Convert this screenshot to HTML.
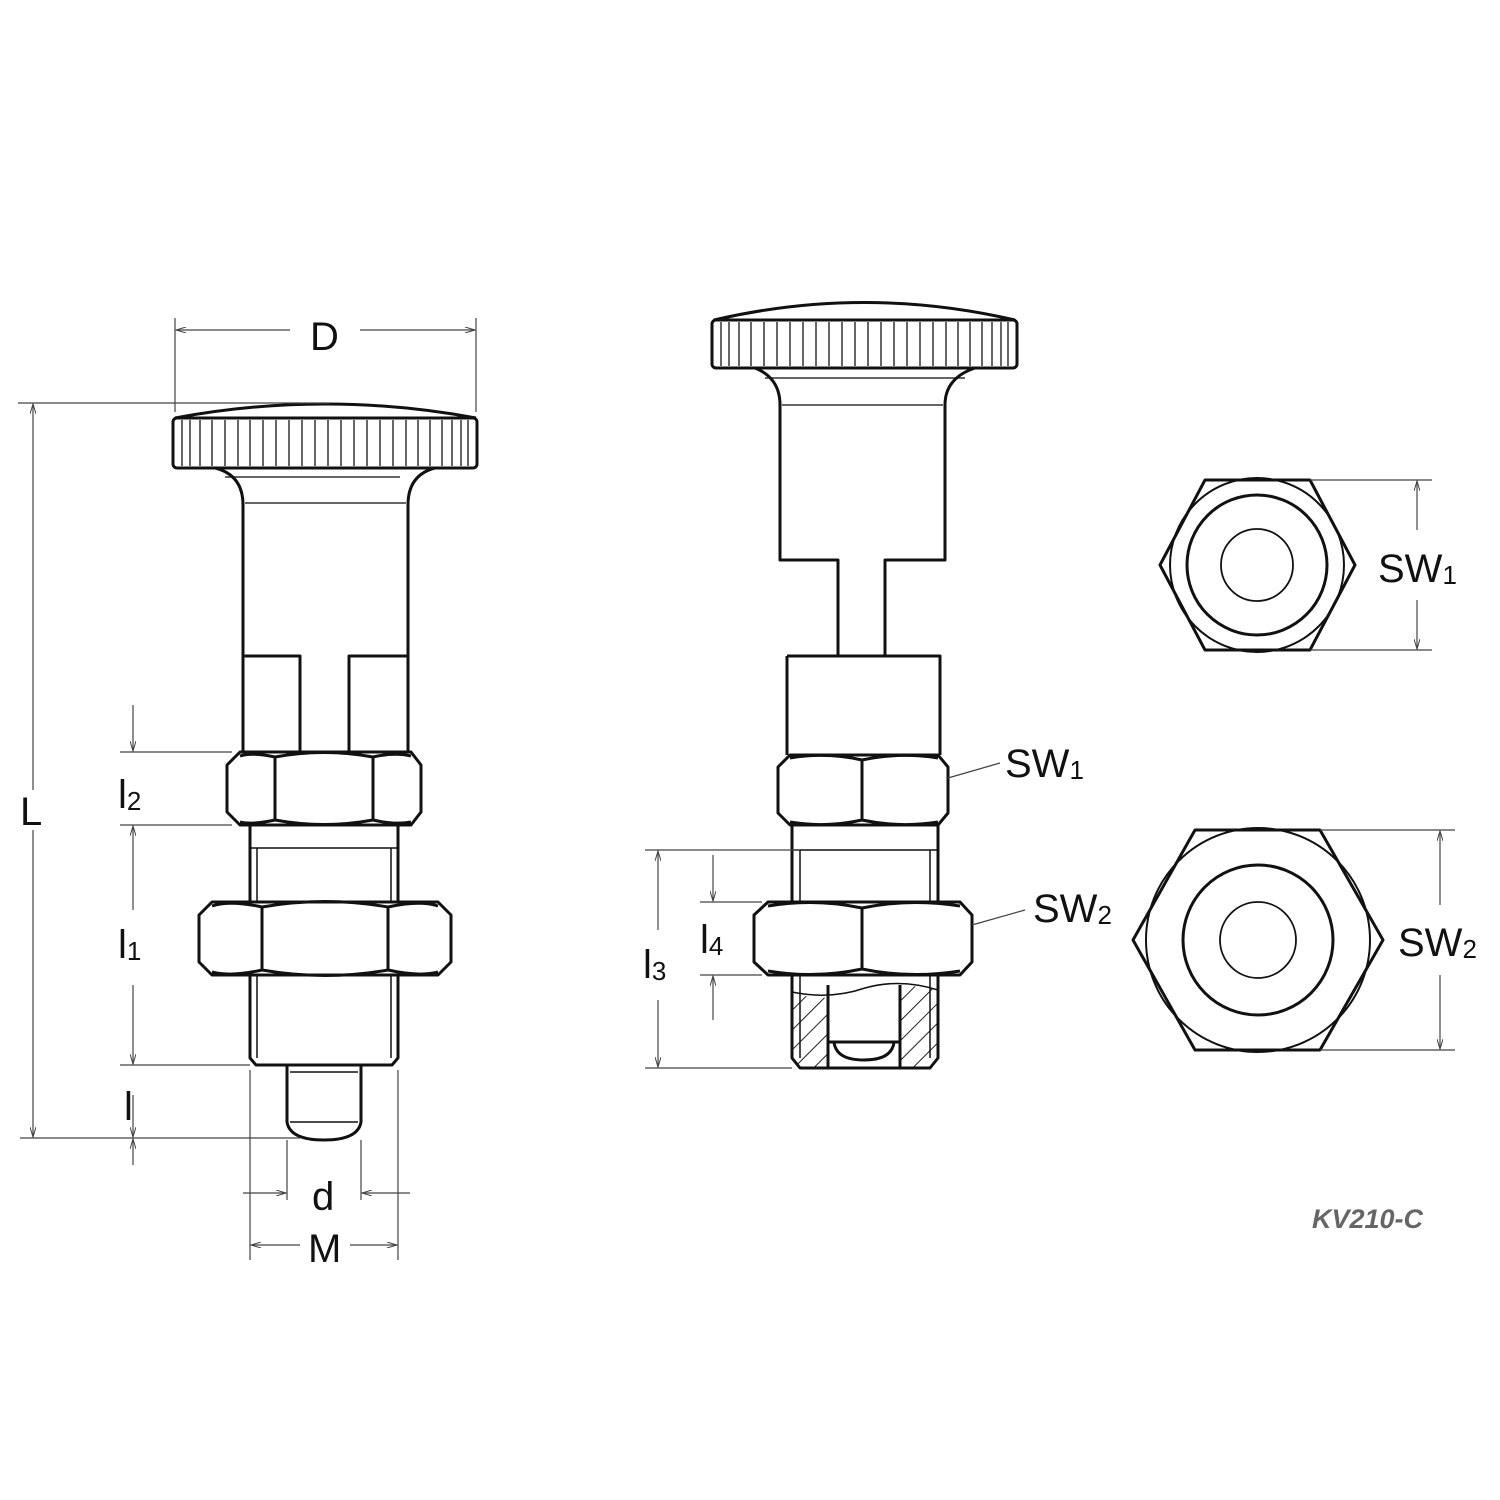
<!DOCTYPE html>
<html><head><style>html,body{margin:0;padding:0;background:#fff}svg{display:block}</style></head><body>
<svg width="1500" height="1500" viewBox="0 0 1500 1500" xmlns="http://www.w3.org/2000/svg" font-family="Liberation Sans, sans-serif">
<defs>
<marker id="a" viewBox="0 0 10 6" refX="10" refY="3" markerWidth="14" markerHeight="6" orient="auto-start-reverse" markerUnits="userSpaceOnUse"><path d="M0,0 L10,3 L0,6" fill="none" stroke="#444" stroke-width="1"/></marker>
<pattern id="h" width="14" height="14" patternUnits="userSpaceOnUse" patternTransform="rotate(45)"><line x1="0" y1="0" x2="0" y2="14" stroke="#222" stroke-width="2"/></pattern>
</defs>
<g fill="none" stroke="#111" stroke-width="3" stroke-linejoin="round">
<!-- LEFT VIEW -->
<path d="M175,418 Q325,390 476,418"/>
<rect x="173" y="418" width="304" height="50" rx="4"/>
<g stroke-width="1.5" stroke="#333">
<path d="M182,420v46M190,420v46M200,420v46M212,420v46M225,420v46M238,420v46M250,420v46M263,420v46M276,420v46M289,420v46M302,420v46M315,420v46M328,420v46M341,420v46M354,420v46M367,420v46M380,420v46M393,420v46M406,420v46M418,420v46M430,420v46M442,420v46M452,420v46M461,420v46M468,420v46"/>
<path d="M225,477H400M245,503H406"/>
</g>
<path d="M215,468 Q243,475 243,505 V752 M435,468 Q408,475 408,505 V752"/>
<path d="M243,656H300V752M408,656H349V752"/>
<path d="M240,752H411L421,765V812L411,825H240L227,812V765Z" fill="#fff"/>
<path d="M275,757 Q252,752 240,756 M275,757 Q324,748 373,757 Q395,752 411,756 M275,820 Q252,825 240,822 M275,820 Q324,829 373,820 Q395,825 411,822 M275,757V820M373,757V820"/>
<path d="M250,825V1058L256,1065H392L398,1058V825"/>
<path d="M250,848H398" stroke-width="1.5"/>
<path d="M257,848V1058M391,848V1058" stroke-width="1.5"/>
<path d="M212,902H438L451,915V962L438,975H212L199,962V915Z" fill="#fff"/>
<path d="M262,907 Q230,900 212,906 M262,907 Q325,896 388,907 Q420,900 438,906 M262,970 Q230,977 212,972 M262,970 Q325,981 388,970 Q420,977 438,972 M262,907V970M388,907V970"/>
<path d="M287,1065V1122 Q290,1140 324,1140 Q358,1140 361,1122V1065"/>
<path d="M290,1072H358M290,1122H358" stroke-width="1.5"/>
<!-- MIDDLE VIEW -->
<path d="M714,320 Q864,285 1015,320"/>
<rect x="712" y="320" width="305" height="48" rx="4"/>
<g stroke-width="1.5" stroke="#333">
<path d="M721,322v44M729,322v44M739,322v44M751,322v44M764,322v44M777,322v44M790,322v44M803,322v44M816,322v44M829,322v44M842,322v44M855,322v44M868,322v44M881,322v44M894,322v44M907,322v44M920,322v44M933,322v44M946,322v44M958,322v44M970,322v44M982,322v44M992,322v44M1001,322v44M1008,322v44"/>
<path d="M765,378H965M782,405H943"/>
</g>
<path d="M755,368 Q780,378 780,405 V560 H838 V656 M975,368 Q945,378 945,405 V560 H885 V656"/>
<path d="M787,656H940V755M787,656V755"/>
<path d="M790,755H938L948,767V813L938,825H790L778,813V767Z" fill="#fff"/>
<path d="M862,760 Q826,752 790,758 M862,760 Q900,752 938,758 M862,820 Q826,828 790,822 M862,820 Q900,828 938,822 M862,760V820"/>
<path d="M792,825V902M938,825V902"/>
<path d="M800,850V902M930,850V902M792,850H938" stroke-width="1.5"/>
<path d="M768,902H960L972,915V962L960,975H768L754,962V915Z" fill="#fff"/>
<path d="M862,908 Q815,898 768,906 M862,908 Q910,898 960,906 M862,969 Q815,979 768,971 M862,969 Q910,979 960,971 M862,908V969"/>
<path d="M792,995 L828,998 V1068 H800 L792,1058Z" fill="url(#h)" stroke="none"/>
<path d="M900,984 L938,990 V1058 L930,1068 H900Z" fill="url(#h)" stroke="none"/>
<path d="M792,975V1058L800,1068H930L938,1058V975"/>
<path d="M800,975V1058M930,975V1058" stroke-width="1.5"/>
<path d="M792,992 Q830,1000 865,988 Q900,978 938,990" stroke-width="1.5"/>
<path d="M828,985V1068M900,985V1068M828,1042H900M834,1042 Q836,1060 864,1060 Q892,1060 894,1042"/>
<!-- RIGHT HEXES -->
<path d="M1160,565L1205,480H1310L1355,565L1310,650H1205Z"/>
<circle cx="1257" cy="565" r="87" stroke-width="2"/>
<circle cx="1257" cy="565" r="70"/>
<circle cx="1257" cy="565" r="36" stroke-width="1.8"/>
<path d="M1133,940L1195,830H1320L1383,940L1320,1050H1195Z"/>
<circle cx="1258" cy="940" r="112" stroke-width="2"/>
<circle cx="1258" cy="940" r="75"/>
<circle cx="1258" cy="940" r="38" stroke-width="1.8"/>
</g>
<!-- DIMENSIONS -->
<g stroke="#444" stroke-width="1.2" fill="none">
<path d="M175,318V412M476,318V412"/>
<path d="M290,330H176" marker-end="url(#a)"/>
<path d="M360,330H475" marker-end="url(#a)"/>
<path d="M18,403H330M20,1138H300"/>
<path d="M33,790V404" marker-end="url(#a)"/>
<path d="M33,830V1137" marker-end="url(#a)"/>
<path d="M120,752H232M120,825H232M120,1065H250"/>
<path d="M133,705V751" marker-end="url(#a)"/>
<path d="M133,910V826" marker-end="url(#a)"/>
<path d="M133,985V1064" marker-end="url(#a)"/>
<path d="M133,1095V1137" marker-end="url(#a)"/>
<path d="M133,1165V1139" marker-end="url(#a)"/>
<path d="M250,1070V1260M398,1070V1260M287,1140V1200M361,1140V1200"/>
<path d="M243,1193H286" marker-end="url(#a)"/>
<path d="M410,1193H362" marker-end="url(#a)"/>
<path d="M300,1245H251" marker-end="url(#a)"/>
<path d="M350,1245H397" marker-end="url(#a)"/>
<path d="M645,850H800M645,1068H792M700,902H762M700,975H762"/>
<path d="M658,930V851" marker-end="url(#a)"/>
<path d="M658,1000V1067" marker-end="url(#a)"/>
<path d="M713,855V901" marker-end="url(#a)"/>
<path d="M713,1020V976" marker-end="url(#a)"/>
<path d="M948,778L1000,763M972,925L1025,910"/>
<path d="M1310,480H1432M1310,650H1432"/>
<path d="M1417,530V481" marker-end="url(#a)"/>
<path d="M1417,600V649" marker-end="url(#a)"/>
<path d="M1320,830H1455M1320,1050H1455"/>
<path d="M1440,905V831" marker-end="url(#a)"/>
<path d="M1440,975V1049" marker-end="url(#a)"/>
</g>
<g fill="#111" font-size="40">
<text x="310" y="350">D</text>
<text x="20" y="825">L</text>
<text x="118" y="808">l<tspan font-size="26" dy="2">2</tspan></text>
<text x="118" y="958">l<tspan font-size="26" dy="2">1</tspan></text>
<text x="124" y="1120">l</text>
<text x="312" y="1210">d</text>
<text x="308" y="1262">M</text>
<text x="643" y="978">l<tspan font-size="26" dy="2">3</tspan></text>
<text x="700" y="953">l<tspan font-size="26" dy="2">4</tspan></text>
<text x="1005" y="777">SW<tspan font-size="26" dy="2">1</tspan></text>
<text x="1033" y="922">SW<tspan font-size="26" dy="2">2</tspan></text>
<text x="1378" y="582">SW<tspan font-size="26" dy="2">1</tspan></text>
<text x="1398" y="956">SW<tspan font-size="26" dy="2">2</tspan></text>
</g>
<text x="1312" y="1228" font-size="27" font-weight="bold" font-style="italic" fill="#666">KV210-C</text>
</svg>
</body></html>
